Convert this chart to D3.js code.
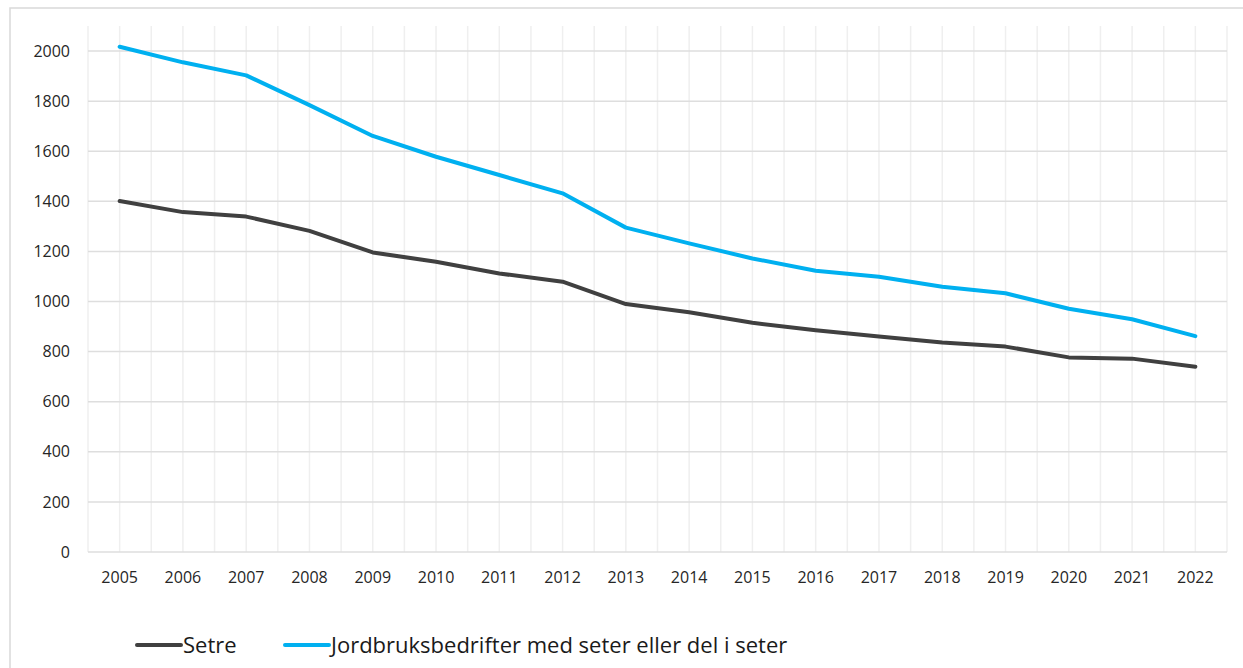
<!DOCTYPE html>
<html>
<head>
<meta charset="utf-8">
<script src="https://cdn.jsdelivr.net/npm/d3@7"></script>
<style>
  body { margin: 0; background: #fff; }
  svg { display: block; font-family: "Open Sans", sans-serif; }
</style>
</head>
<body>
<script>
var years = [2005, 2006, 2007, 2008, 2009, 2010, 2011, 2012, 2013, 2014, 2015, 2016, 2017, 2018, 2019, 2020, 2021, 2022];
var setre = [1401, 1357, 1339, 1282, 1196, 1159, 1112, 1079, 990, 957, 915, 885, 860, 836, 820, 777, 772, 740];
var jordbruk = [2017, 1955, 1903, 1784, 1661, 1578, 1505, 1432, 1295, 1232, 1172, 1123, 1099, 1059, 1033, 971, 929, 862];
var yTicks = [0, 200, 400, 600, 800, 1000, 1200, 1400, 1600, 1800, 2000];
var seriesNames = ['Setre', 'Jordbruksbedrifter med seter eller del i seter'];
var seriesColors = ['#404040', '#00b0f0'];

var width = 1243, height = 668;
var plotLeft = 88, plotRight = 1227, plotTop = 26, plotBottom = 552;

var svg = d3.select('body').append('svg')
    .attr('width', width)
    .attr('height', height);

// outer chart frame
svg.append('rect')
    .attr('x', 10).attr('y', 8)
    .attr('width', width).attr('height', height)
    .attr('fill', 'none')
    .attr('stroke', '#d9d9d9')
    .attr('stroke-width', 1.5);

var x = d3.scaleBand().domain(years).range([plotLeft, plotRight]).padding(0);
var y = d3.scaleLinear().domain([0, 2100]).range([plotBottom, plotTop]);
var bw = x.bandwidth();
var cx = function(d) { return x(d) + bw / 2; };

// vertical gridlines: band edges + centres
var vLines = [];
years.forEach(function(d) { vLines.push(x(d)); vLines.push(cx(d)); });
vLines.push(plotRight);
svg.append('g').selectAll('line')
    .data(vLines)
    .enter().append('line')
    .attr('x1', d => d).attr('x2', d => d)
    .attr('y1', plotTop).attr('y2', plotBottom)
    .attr('stroke', '#efefef')
    .attr('stroke-width', 1.5);

// horizontal gridlines
svg.append('g').selectAll('line')
    .data(yTicks)
    .enter().append('line')
    .attr('x1', plotLeft).attr('x2', plotRight)
    .attr('y1', d => y(d)).attr('y2', d => y(d))
    .attr('stroke', '#dedede')
    .attr('stroke-width', 1.5);

var yAxis = d3.axisLeft(y).tickValues(yTicks).tickFormat(d3.format('d')).tickSize(0).tickPadding(18);
var xAxis = d3.axisBottom(x).tickSize(0).tickPadding(20);

var gy = svg.append('g').attr('transform', 'translate(' + plotLeft + ',0)').call(yAxis);
var gx = svg.append('g').attr('transform', 'translate(0,' + plotBottom + ')').call(xAxis);
[gy, gx].forEach(function(g) {
  g.select('.domain').remove();
  g.selectAll('text')
    .attr('fill', '#262626')
    .attr('font-size', '16px')
    .attr('font-family', '"Open Sans", sans-serif');
});

var line = d3.line()
    .x((d, i) => cx(years[i]))
    .y(d => y(d));

[setre, jordbruk].forEach(function(s, i) {
  svg.append('path')
    .datum(s)
    .attr('d', line)
    .attr('fill', 'none')
    .attr('stroke', seriesColors[i])
    .attr('stroke-width', 4)
    .attr('stroke-linejoin', 'round')
    .attr('stroke-linecap', 'round');
});

// legend
var legendX = [137, 285];
var legendY = 645;
seriesNames.forEach(function(name, i) {
  var g = svg.append('g').attr('transform', 'translate(' + legendX[i] + ',' + legendY + ')');
  g.append('line')
    .attr('x1', 0).attr('x2', 44)
    .attr('y1', 0).attr('y2', 0)
    .attr('stroke', seriesColors[i])
    .attr('stroke-width', 4)
    .attr('stroke-linecap', 'round');
  g.append('text')
    .attr('x', 46)
    .attr('y', 0)
    .attr('dy', '0.35em')
    .attr('fill', '#1a1a1a')
    .attr('font-size', '22px')
    .text(name);
});
</script>
</body>
</html>
